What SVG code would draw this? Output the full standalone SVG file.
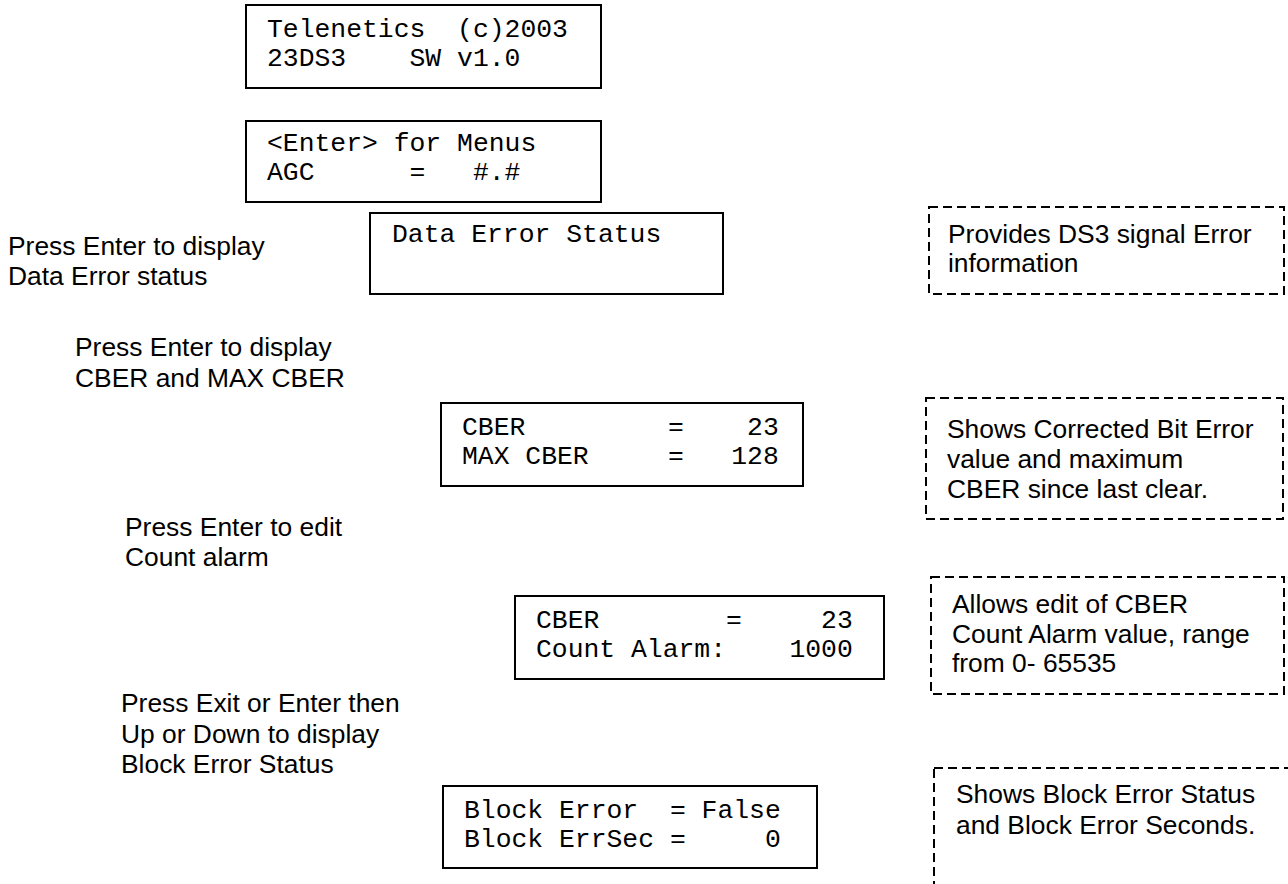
<svg xmlns="http://www.w3.org/2000/svg" width="1288" height="884" viewBox="0 0 1288 884" xml:space="preserve">
<style>
.box{fill:#fff;stroke:#000;stroke-width:2}
.note{fill:none;stroke:#000;stroke-width:2;stroke-dasharray:9 5}
.m{font-family:"Liberation Mono","Courier New",monospace;font-size:26.4px;fill:#000;white-space:pre}
.s{font-family:"Liberation Sans",Arial,sans-serif;font-size:26.4px;fill:#000}
</style>
<rect width="1288" height="884" fill="#fff"/>
<g id="connectors"></g>
<g id="screen-splash">
<rect class="box" x="246" y="5" width="355" height="83"/>
<text class="m" x="267" y="37">Telenetics  (c)2003</text>
<text class="m" x="267" y="66">23DS3    SW v1.0</text>
</g>
<g id="screen-menu">
<rect class="box" x="246" y="121" width="355" height="81"/>
<text class="m" x="267" y="151">&lt;Enter&gt; for Menus</text>
<text class="m" x="267" y="180">AGC      =   #.#</text>
</g>
<g id="screen-data-error">
<rect class="box" x="370" y="213" width="353" height="81"/>
<text class="m" x="392" y="242">Data Error Status</text>
</g>
<g id="screen-cber">
<rect class="box" x="441" y="403" width="362" height="83"/>
<text class="m" x="462" y="435">CBER         =    23</text>
<text class="m" x="462" y="464">MAX CBER     =   128</text>
</g>
<g id="screen-count">
<rect class="box" x="515" y="596" width="369" height="83"/>
<text class="m" x="536" y="628">CBER        =     23</text>
<text class="m" x="536" y="657">Count Alarm:    1000</text>
</g>
<g id="screen-block">
<rect class="box" x="443" y="786" width="374" height="82"/>
<text class="m" x="464" y="818">Block Error  = False</text>
<text class="m" x="464" y="847">Block ErrSec =     0</text>
</g>
<g id="step-1">
<text class="s" x="8" y="255">Press Enter to display</text>
<text class="s" x="8" y="285">Data Error status</text>
</g>
<g id="step-2">
<text class="s" x="75" y="356">Press Enter to display</text>
<text class="s" x="75" y="387">CBER and MAX CBER</text>
</g>
<g id="step-3">
<text class="s" x="125" y="536">Press Enter to edit</text>
<text class="s" x="125" y="566">Count alarm</text>
</g>
<g id="step-4">
<text class="s" x="121" y="712">Press Exit or Enter then</text>
<text class="s" x="121" y="743">Up or Down to display</text>
<text class="s" x="121" y="773">Block Error Status</text>
</g>
<g id="note-1">
<rect class="note" x="929" y="207" width="355" height="87"/>
<text class="s" x="948" y="243">Provides DS3 signal Error</text>
<text class="s" x="948" y="272">information</text>
</g>
<g id="note-2">
<rect class="note" x="926" y="398" width="357" height="121"/>
<text class="s" x="947" y="438">Shows Corrected Bit Error</text>
<text class="s" x="947" y="468">value and maximum</text>
<text class="s" x="947" y="498">CBER since last clear.</text>
</g>
<g id="note-3">
<rect class="note" x="931" y="577" width="353" height="117"/>
<text class="s" x="952" y="613">Allows edit of CBER</text>
<text class="s" x="952" y="643">Count Alarm value, range</text>
<text class="s" x="952" y="672">from 0- 65535</text>
</g>
<g id="note-4">
<rect class="note" x="934" y="768" width="400" height="200"/>
<text class="s" x="956" y="803">Shows Block Error Status</text>
<text class="s" x="956" y="834">and Block Error Seconds.</text>
</g>
</svg>
